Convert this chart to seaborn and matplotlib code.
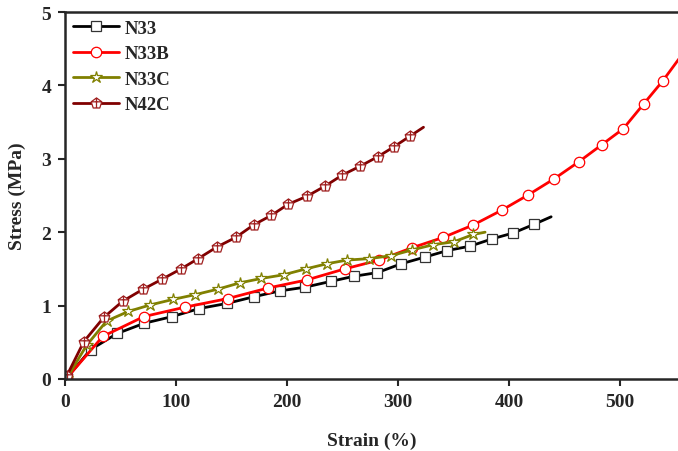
import numpy as np
import seaborn as sns
from matplotlib import pyplot as plt
from matplotlib.path import Path

# values (strain in %, stress in MPa)
n33_strain = [2, 23, 47, 71.5, 96.5, 121, 146, 170, 193.5, 216, 239.5, 260.5,
              281.5, 303, 324, 344.5, 365, 385, 404, 423, 438]
n33_stress = [0.02, 0.40, 0.62, 0.76, 0.85, 0.96, 1.03, 1.12, 1.20, 1.25, 1.33, 1.40,
              1.45, 1.57, 1.66, 1.75, 1.81, 1.91, 1.99, 2.11, 2.21]

n33b_strain = [2, 34, 71, 108.5, 146.5, 183, 218, 252, 283, 313, 341, 368,
               393.5, 417, 441, 463, 483.5, 503, 521.5, 538.5, 556]
n33b_stress = [0.02, 0.58, 0.85, 0.98, 1.095, 1.24, 1.35, 1.50, 1.62, 1.79, 1.93, 2.10,
               2.30, 2.505, 2.73, 2.96, 3.19, 3.41, 3.75, 4.06, 4.42]

n33c_strain = [2, 19.5, 37.5, 57, 77, 97.5, 117.5, 138, 157.5, 177, 197, 217,
               236, 254, 274, 294, 313, 332, 350.5, 368, 378.5]
n33c_stress = [0.02, 0.46, 0.79, 0.92, 1.01, 1.085, 1.15, 1.225, 1.31, 1.37, 1.42, 1.50,
               1.57, 1.62, 1.64, 1.68, 1.76, 1.83, 1.87, 1.97, 2.00]

n42c_strain = [1.5, 17, 35, 52, 70, 87.5, 104.5, 120, 137, 154, 170, 186, 201,
               218, 234.5, 250, 266, 282, 296, 311, 323]
n42c_stress = [0.04, 0.51, 0.84, 1.06, 1.22, 1.36, 1.50, 1.64, 1.80, 1.93, 2.10, 2.23, 2.38,
               2.49, 2.63, 2.78, 2.90, 3.03, 3.16, 3.31, 3.43]

# pentagon with a cross inside, like the Origin symbol
ang = np.deg2rad(90 + 72 * np.arange(5))
verts = list(zip(np.cos(ang), np.sin(ang))) + [(0, 0)]
codes = [Path.MOVETO] + [Path.LINETO] * 4 + [Path.CLOSEPOLY]
verts += [(-0.95, 0.3), (0.95, 0.3), (0, 1), (0, -0.8)]
codes += [Path.MOVETO, Path.LINETO, Path.MOVETO, Path.LINETO]
pent_cross = Path(verts, codes)

sns.set_style("ticks")
plt.rcParams['font.family'] = ['Liberation Serif', 'DejaVu Serif']
plt.rcParams['font.weight'] = 'bold'
plt.rcParams['axes.labelweight'] = 'bold'

fig = plt.figure(figsize=(6.78, 4.52), dpi=100)
ax = fig.add_axes([65 / 678, 1 - 380 / 452, 1 - 65 / 678, (380 - 13) / 452])

series = [
    ("N33", n33_strain, n33_stress, "black", "s", "#333333", 7),
    ("N33B", n33b_strain, n33b_stress, "#ff0000", "o", "#ff0000", 7.5),
    ("N33C", n33c_strain, n33c_stress, "#808000", "*", "#808000", 9),
    ("N42C", n42c_strain, n42c_stress, "#800000", pent_cross, "#a02020", 8),
]

for name, xs, ys, col, mk, mec, ms in series:
    sns.lineplot(x=xs, y=ys, ax=ax, sort=False, color=col, lw=2, label=name,
                 marker=mk, markersize=ms, markerfacecolor="white",
                 markeredgecolor=mec, markeredgewidth=0.9,
                 markevery=slice(0, len(xs) - 1))

ax.set_xlim(0, 552.3)
ax.set_ylim(0, 5)
ax.set_xticks([0, 100, 200, 300, 400, 500])
ax.set_yticks([0, 1, 2, 3, 4, 5])
ax.tick_params(direction="out", length=5, width=1.5, labelsize=14, pad=5)
for s in ["left", "bottom", "top"]:
    ax.spines[s].set_linewidth(1.8)
ax.spines["right"].set_visible(False)

ax.set_xlabel("Strain (%)", fontsize=14, fontweight="bold", labelpad=16)
ax.set_ylabel("Stress (MPa)", fontsize=14, fontweight="bold", labelpad=11)

ax.legend(loc="upper left", bbox_to_anchor=(0.0, 1.0), frameon=False,
          prop={'family': 'Liberation Serif', 'weight': 'bold', 'size': 13.5},
          handlelength=2.5, handletextpad=0.3, labelspacing=0.45,
          borderaxespad=0.1, borderpad=0.3)

fig.savefig("out.png", dpi=100)
